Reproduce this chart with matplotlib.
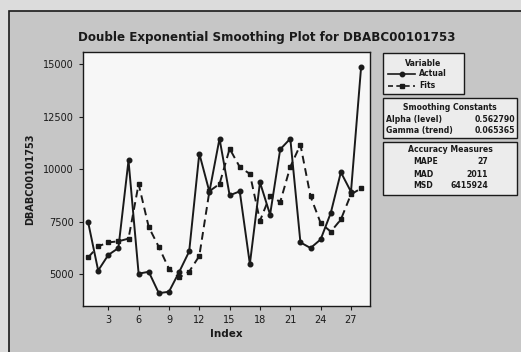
import matplotlib
matplotlib.use("Agg")
import matplotlib.pyplot as plt
from matplotlib.patches import Rectangle
from matplotlib.lines import Line2D

# Values
index = list(range(1, 29))
actual = [7500, 5180, 5920, 6250, 10420, 5030, 5120, 4100, 4170, 5100, 6090, 10750, 8930, 11460,
          8760, 8950, 5490, 9380, 7840, 10950, 11460, 6520, 6250, 6660, 7920, 9860, 8930, 14870]
fits = [5800, 6330, 6520, 6570, 6700, 9300, 7250, 6300, 5260, 4850, 5130, 5870, 8960, 9300,
        10980, 10110, 9780, 7550, 8750, 8440, 10120, 11170, 8710, 7440, 7030, 7610, 8810, 9090]
xticks = [3, 6, 9, 12, 15, 18, 21, 24, 27]
yticks = [5000, 7500, 10000, 12500, 15000]
smoothing = [("Alpha (level)", "0.562790"), ("Gamma (trend)", "0.065365")]
accuracy = [("MAPE", "27"), ("MAD", "2011"), ("MSD", "6415924")]

W, H = 521, 352
INK = "#1a1a1a"
plt.rcParams["font.family"] = ["DejaVu Sans"]

fig = plt.figure(figsize=(W / 100, H / 100), dpi=100)
fig.patch.set_facecolor("#dcdcdc")


def px(x, y):
    # pixel coords (top-left origin) -> figure fraction
    return x / W, 1 - y / H


def frect(x0, y0, x1, y1, fc, lw=1.0, z=0):
    (a, b), (c, d) = px(x0, y1), px(x1, y0)
    fig.add_artist(Rectangle((a, b), c - a, d - b, transform=fig.transFigure,
                             facecolor=fc, edgecolor=INK, linewidth=lw, zorder=z))


# outer graph frame
frect(9, 11, W + 5, H + 5, "#c6c6c6", lw=1.2, z=-5)

ax = fig.add_axes([83 / W, 1 - 306 / H, (370 - 83) / W, (306 - 52) / H])
ax.set_facecolor("#f7f7f7")
ax.plot(index, actual, color=INK, lw=1.4, marker="o", ms=3.3, label="Actual")
ax.plot(index, fits, color=INK, lw=1.4, ls=(0, (4, 2.5)), marker="s", ms=3.0, label="Fits")
ax.set_xlim(0.5, 28.88)
ax.set_ylim(3490, 15586)
ax.set_xticks(xticks)
ax.set_yticks(yticks)
ax.tick_params(labelsize=7, colors=INK, length=3, width=0.8)
for s in ax.spines.values():
    s.set_color(INK)
    s.set_linewidth(1.0)
ax.set_xlabel("Index", fontsize=7.5, fontweight="bold", color=INK, labelpad=3)
ax.set_ylabel("DBABC00101753", fontsize=7, fontweight="bold", color=INK, labelpad=6)

fig.text(*px(267, 37), "Double Exponential Smoothing Plot for DBABC00101753",
         ha="center", va="center", fontsize=8.6, fontweight="bold", color=INK)

# legend panels
fs = 5.6
frect(383, 53, 464, 94, "#ececec")
fig.text(*px(423, 63), "Variable", ha="center", va="center", fontsize=fs, fontweight="bold", color=INK)
for (lab, ls, mk), yy in zip([("Actual", "-", "o"), ("Fits", (0, (3, 2)), "s")], [74, 86]):
    x0, y0 = px(388, yy)
    x1, _ = px(415, yy)
    fig.add_artist(Line2D([x0, x1], [y0, y0], transform=fig.transFigure, color=INK, lw=1.2, ls=ls))
    fig.add_artist(Line2D([(x0 + x1) / 2], [y0], transform=fig.transFigure, color=INK,
                          marker=mk, ms=3.2, ls="none"))
    fig.text(*px(419, yy), lab, ha="left", va="center", fontsize=fs, fontweight="bold", color=INK)

frect(383, 98, 517, 138, "#ececec")
fig.text(*px(450, 107), "Smoothing Constants", ha="center", va="center", fontsize=fs,
         fontweight="bold", color=INK)
for (name, val), yy in zip(smoothing, [119, 130.5]):
    fig.text(*px(386, yy), name, ha="left", va="center", fontsize=fs, fontweight="bold", color=INK)
    fig.text(*px(515, yy), val, ha="right", va="center", fontsize=fs, fontweight="bold", color=INK)

frect(383, 142, 517, 195, "#ececec")
fig.text(*px(450, 150), "Accuracy Measures", ha="center", va="center", fontsize=fs,
         fontweight="bold", color=INK)
for (name, val), yy in zip(accuracy, [162, 174, 186]):
    fig.text(*px(413, yy), name, ha="left", va="center", fontsize=fs, fontweight="bold", color=INK)
    fig.text(*px(488, yy), val, ha="right", va="center", fontsize=fs, fontweight="bold", color=INK)

fig.savefig("out.png", dpi=100, facecolor=fig.get_facecolor())
